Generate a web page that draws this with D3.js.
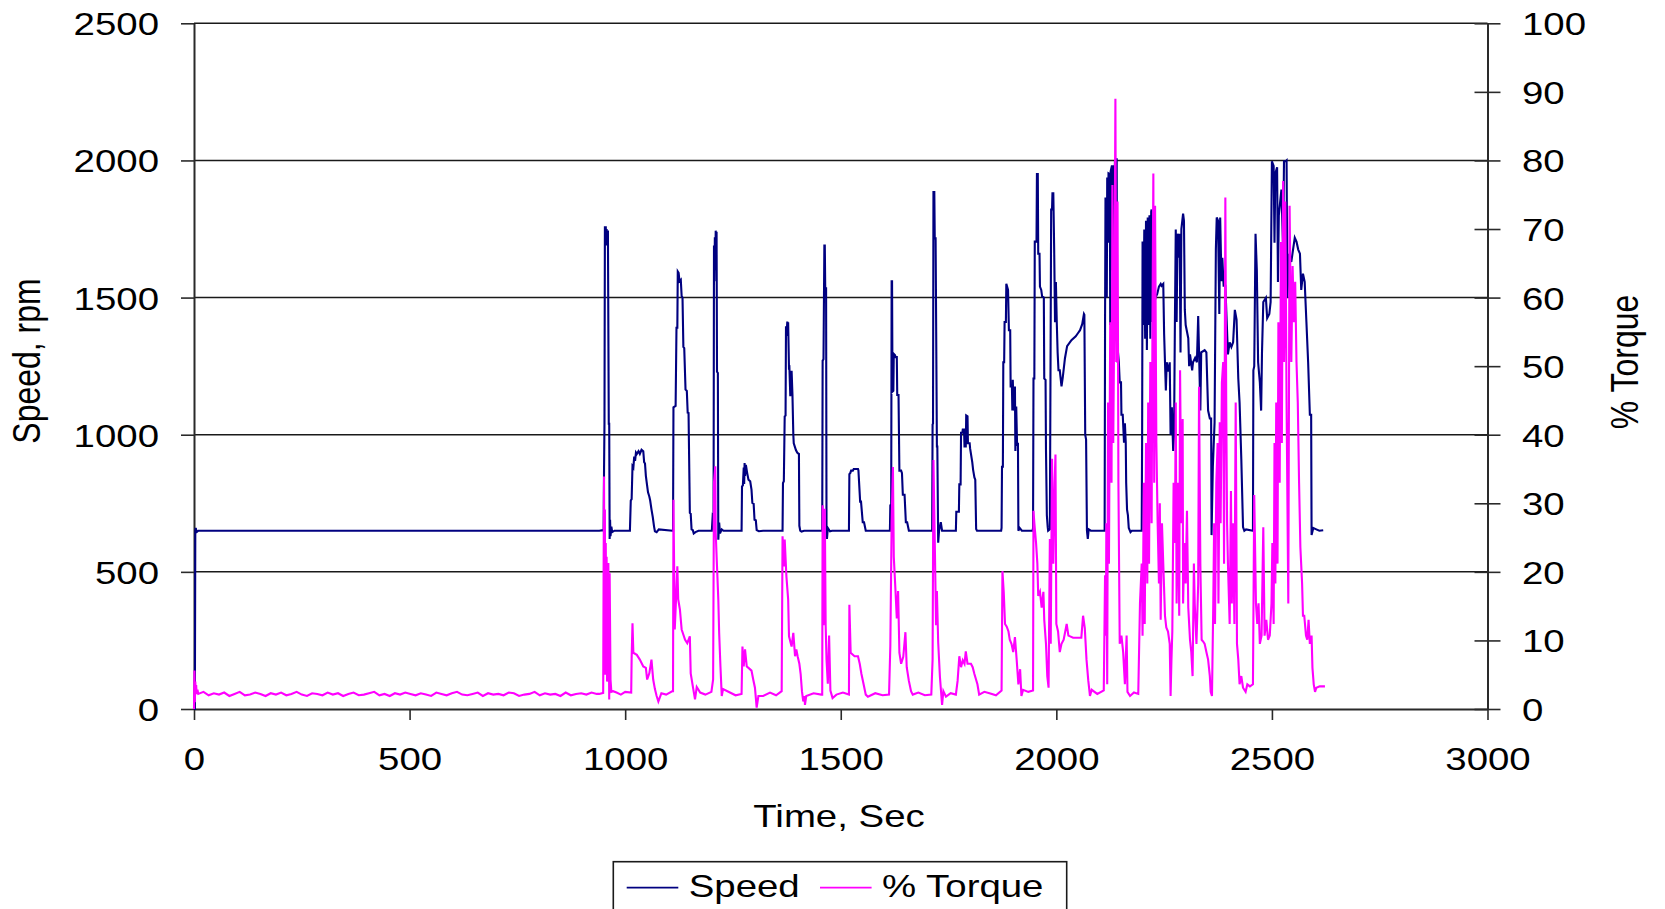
<!DOCTYPE html>
<html>
<head>
<meta charset="utf-8">
<script src="https://cdn.jsdelivr.net/npm/d3@7"></script>
<style>
  html, body { margin: 0; padding: 0; background: #fff; overflow: hidden; }
  text { font-family: "Liberation Sans", Arial, sans-serif; fill: #000; }
</style>
</head>
<body>
<div id="chart"></div>
<script>
// Engine speed (rpm) over time (s)
const speedData = [
  [0,0],[2,0],[3,650],[4,660],[6,645],[10,650],[940,650],
  [948,652],[950,650],[951,870],[952,1040],[953,1760],[954,1700],[955,1760],[956,1690],[957,1750],[958,1700],[960,1745],[962,1040],[963,1040],[964,620],[965,690],[966,630],[968,665],[970,645],[975,650],[1010,650],
  [1011,650],[1013,760],[1015,765],[1017,885],[1019,880],[1021,920],[1023,905],[1025,935],[1027,930],[1031,940],[1034,930],[1038,945],[1042,940],[1044,900],[1046,895],[1048,850],[1050,825],[1053,790],[1056,775],[1058,760],[1061,728],[1064,700],[1067,665],[1069,648],[1073,645],[1078,655],[1110,650],
  [1111,650],[1112,1100],[1117,1105],[1119,1390],[1121,1390],[1122,1595],[1124,1590],[1126,1560],[1129,1565],[1131,1505],[1133,1500],[1135,1320],[1137,1316],[1140,1165],[1143,1160],[1145,1080],[1147,1079],[1150,715],[1152,712],[1154,655],[1157,652],[1159,640],[1163,645],[1170,650],[1200,650],
  [1201,650],[1203,705],[1205,700],[1206,1690],[1207,1560],[1208,1720],[1209,1600],[1210,1744],[1211,1700],[1212,1740],[1213,1230],[1215,1225],[1216,617],[1218,680],[1220,640],[1224,655],[1228,650],[1268,650],
  [1270,650],[1271,812],[1273,815],[1275,880],[1276,820],[1277,897],[1278,850],[1280,890],[1283,860],[1286,836],[1290,830],[1293,800],[1295,751],[1298,748],[1300,690],[1303,688],[1305,652],[1310,648],[1320,650],[1363,650],
  [1365,650],[1366,824],[1368,830],[1370,1067],[1372,1070],[1373,1395],[1375,1380],[1376,1413],[1377,1360],[1378,1410],[1380,1237],[1381,1240],[1383,1140],[1386,1233],[1388,1145],[1390,1000],[1391,969],[1396,944],[1399,935],[1401,932],[1403,930],[1404,668],[1406,650],[1409,647],[1415,650],[1455,650],
  [1457,650],[1458,1270],[1460,1275],[1462,1690],[1463,1690],[1464,1534],[1466,1534],[1467,650],[1468,620],[1470,660],[1475,648],[1480,650],[1518,650],
  [1519,650],[1520,856],[1522,860],[1524,869],[1528,869],[1530,875],[1540,875],[1541,870],[1545,756],[1547,756],[1551,681],[1554,681],[1558,650],[1612,650],
  [1614,650],[1615,743],[1617,745],[1618,1559],[1619,1559],[1620,1157],[1622,1160],[1623,1295],[1626,1290],[1627,1283],[1630,1283],[1631,1145],[1634,1145],[1636,869],[1640,869],[1642,860],[1644,781],[1648,781],[1651,681],[1654,681],[1658,650],[1710,650],
  [1712,650],[1713,1038],[1714,1040],[1715,1885],[1717,1885],[1718,1716],[1720,1716],[1723,957],[1724,957],[1726,606],[1728,650],[1732,681],[1735,650],[1765,650],
  [1767,650],[1768,719],[1774,719],[1775,819],[1778,819],[1779,1007],[1782,1007],[1783,1019],[1786,1019],[1787,957],[1790,957],[1791,1070],[1794,1067],[1795,969],[1799,969],[1800,950],[1805,900],[1807,872],[1810,844],[1812,836],[1814,656],[1816,650],[1872,650],
  [1873,660],[1874,883],[1876,883],[1877,1264],[1879,1264],[1880,1411],[1883,1411],[1884,1550],[1888,1528],[1890,1381],[1893,1381],[1894,1176],[1897,1176],[1898,1088],[1899,1200],[1901,1088],[1904,1176],[1905,941],[1907,1103],[1909,960],[1911,971],[1912,650],[1915,660],[1920,650],[1945,650],
  [1946,660],[1947,1205],[1949,1205],[1950,1704],[1954,1704],[1955,1950],[1957,1950],[1958,1660],[1961,1660],[1962,1540],[1965,1528],[1967,1504],[1971,1500],[1972,1205],[1975,1200],[1976,945],[1978,707],[1980,663],[1981,650],[1985,655],[1988,1821],[1990,1821],[1991,1880],[1993,1880],[1995,1675],[1997,1410],[1999,1557],[2001,1411],[2003,1300],[2005,1235],[2008,1235],[2012,1176],[2015,1210],[2020,1279],[2025,1323],[2035,1345],[2045,1359],[2050,1370],[2055,1381],[2060,1403],[2064,1440],[2065,1437],[2067,1000],[2069,982],[2071,650],[2073,620],[2075,655],[2080,650],[2110,650],
  [2112,650],[2113,1411],[2114,1865],[2116,1838],[2117,1500],[2118,1938],[2120,1700],[2121,1953],[2124,1950],[2125,1400],[2126,1960],[2129,1982],[2130,1600],[2132,1982],[2134,1870],[2136,2000],[2137,1750],[2139,2004],[2140,2004],[2141,1264],[2143,1300],[2145,1264],[2147,1191],[2150,1191],[2151,1073],[2154,1073],[2157,971],[2159,1042],[2161,971],[2162,824],[2164,727],[2166,707],[2168,660],[2172,645],[2175,650],[2196,650],
  [2198,650],[2199,1000],[2200,1704],[2202,1400],[2204,1748],[2206,1350],[2208,1780],[2210,1309],[2212,1792],[2214,1400],[2216,1800],[2218,1350],[2220,1813],[2221,1821],[2222,1411],[2224,1450],[2226,1470],[2230,1500],[2234,1513],[2238,1540],[2242,1550],[2244,1543],[2248,1550],[2250,1367],[2254,1161],[2256,1264],[2260,1230],[2263,1264],[2265,1000],[2268,1100],[2271,941],[2273,1000],[2275,1411],[2277,1748],[2279,1411],[2281,1733],[2284,1645],[2286,1733],[2288,1300],[2290,1750],[2294,1806],[2296,1780],[2298,1455],[2300,1400],[2306,1352],[2308,1250],[2310,1293],[2315,1235],[2317,1264],[2322,1280],[2326,1264],[2329,1433],[2331,1300],[2334,1088],[2336,1300],[2344,1308],[2348,1300],[2352,1088],[2356,1059],[2359,1059],[2360,634],[2363,883],[2367,1044],[2370,1675],[2372,1792],[2375,1780],[2378,1440],[2380,1792],[2383,1560],[2385,1645],[2388,1543],[2392,1543],[2398,1293],[2402,1337],[2406,1320],[2410,1337],[2414,1455],[2418,1420],[2422,1205],[2425,1117],[2429,912],[2433,663],[2436,650],[2440,655],[2456,650],
  [2457,1235],[2459,1250],[2462,1733],[2465,1600],[2468,1264],[2472,1191],[2475,1088],[2477,1300],[2480,1484],[2486,1499],[2489,1425],[2494,1440],[2497,1484],[2500,1997],[2504,1980],[2506,1700],[2508,1953],[2512,1975],[2514,1557],[2516,1800],[2522,1894],[2526,1675],[2528,1997],[2532,1997],[2534,2000],[2536,1499],[2540,1660],[2545,1630],[2549,1675],[2553,1718],[2557,1704],[2561,1675],[2565,1660],[2568,1528],[2572,1587],[2576,1557],[2580,1411],[2584,1264],[2588,1073],[2591,1073],[2592,634],[2596,660],[2603,655],[2610,650],[2619,652]
];

// Percent torque over time (s)
const torqueData = [
  [0,0],[1,5.6],[2,1],[3,4],[4,2.5],[5,3.5],[6,2.2],[8,2.8],
  [10,2.2],[22,2.5],[34,2.0],[46,2.3],[58,2.1],[70,2.4],[82,1.9],[94,2.2],[106,2.5],[118,2.0],[130,2.1],[142,2.4],[154,2.2],[166,1.9],[178,2.3],[190,2.1],[202,2.4],[214,2.0],[226,2.2],[238,2.5],[250,2.1],[262,1.9],[274,2.3],[286,2.2],[298,2.0],[310,2.4],[322,2.1],[334,2.3],[346,1.9],[358,2.2],[370,2.4],[382,2.0],[394,2.1],[406,2.3],[418,2.5],[430,2.0],[442,2.2],[454,1.9],[466,2.3],[478,2.1],[490,2.4],[502,2.2],[514,2.0],[526,2.3],[538,2.1],[550,1.9],[562,2.4],[574,2.2],[586,2.0],[598,2.3],[610,2.5],[622,2.1],[634,2.0],[646,2.2],[658,2.4],[670,1.9],[682,2.3],[694,2.1],[706,2.2],[718,2.0],[730,2.4],[742,2.3],[754,1.9],[766,2.1],[778,2.2],[790,2.5],[802,2.0],[814,2.3],[826,2.1],[838,2.2],[850,1.9],[862,2.4],[874,2.0],[886,2.2],[898,2.3],[910,2.1],[922,2.4],[934,2.2],[940,2.2],
  [949,2.35],[950,20],[951,33.9],[952,10],[953,29.1],[954,5],[955,24.2],[956,13.5],[957,22.2],[958,4],[960,6.2],[961,21.3],[963,1.4],[964,19.8],[966,4.3],[968,2.5],[972,2.6],[980,2.4],[990,2.1],[1000,2.5],[1014,2.4],
  [1015,7.4],[1017,12.5],[1019,8.2],[1027,7.9],[1034,7.2],[1042,6.2],[1048,6],[1051,4.3],[1056,5.2],[1061,7.2],[1065,4.3],[1069,2.9],[1073,1.9],[1077,1.1],[1084,2.3],[1095,2.1],[1110,2.6],
  [1111,2.6],[1112,30.5],[1115,11.6],[1118,16],[1121,20.8],[1123,16],[1127,14.5],[1131,11.6],[1139,10.1],[1144,9.6],[1150,10.6],[1152,5.2],[1158,2.9],[1162,1.4],[1166,3.2],[1174,2.4],[1186,2.1],[1200,2.5],
  [1204,4.3],[1206,33],[1209,35.4],[1210,25.7],[1213,20.8],[1216,16],[1218,11.1],[1221,6.2],[1224,1.9],[1227,2.9],[1243,2.4],[1256,2.0],[1270,2.2],
  [1272,9.1],[1275,6.2],[1278,8.7],[1282,6.2],[1286,6],[1293,5.6],[1297,4.3],[1301,3.1],[1305,0.2],[1309,1.9],[1320,1.9],[1336,2.4],[1350,2.0],[1363,2.6],
  [1365,25.2],[1368,20.8],[1370,24.7],[1374,19.3],[1378,16],[1380,10.6],[1386,9.1],[1390,11.1],[1394,7.7],[1397,8.7],[1400,7.7],[1404,6.6],[1407,5.1],[1410,2.6],[1413,1.1],[1416,1.9],[1417,0.6],[1420,1.9],[1437,2.3],[1455,2.1],
  [1457,2.1],[1458,29.7],[1460,12.2],[1463,29.2],[1465,12.2],[1467,7.2],[1470,3.7],[1473,10.7],[1476,2.7],[1481,1.6],[1490,2.1],[1505,2.4],[1519,2.1],
  [1520,15.2],[1523,8.2],[1532,7.7],[1540,7.7],[1544,6.6],[1548,5.1],[1553,3.6],[1558,2.1],[1563,1.8],[1580,2.3],[1597,2.0],[1612,2.1],
  [1615,9.2],[1618,27.2],[1621,35.3],[1623,22.2],[1627,17.2],[1630,13.2],[1633,17.2],[1636,8.2],[1640,6.6],[1645,7.6],[1650,11.2],[1653,6.1],[1658,4.1],[1663,2.6],[1667,2.1],[1680,2.4],[1695,2.0],[1710,2.1],
  [1713,7.2],[1715,36.3],[1718,24.7],[1721,12.2],[1723,17.2],[1726,9.7],[1730,4.7],[1735,0.6],[1738,2.6],[1744,1.8],[1755,2.3],[1767,2.1],
  [1771,4.1],[1775,7.7],[1779,6.1],[1783,7.1],[1787,6.6],[1790,8.4],[1794,6.6],[1802,6.6],[1806,6.1],[1810,5.1],[1817,3.6],[1821,2.1],[1833,2.5],[1845,2.3],[1860,2.0],[1873,2.7],
  [1875,20.1],[1878,17.1],[1881,12.4],[1885,12],[1889,11.3],[1892,10.1],[1896,9.5],[1900,8.3],[1904,10.5],[1908,7.2],[1912,3.6],[1916,5.8],[1919,1.9],[1923,2.8],[1935,2.5],[1946,2.7],
  [1947,28.9],[1949,27.1],[1953,24.2],[1956,21.2],[1958,16.5],[1962,17.1],[1966,14.8],[1970,17.1],[1972,13],[1976,9.5],[1979,4.8],[1982,3.1],[1985,24.8],[1987,9.5],[1990,36.5],[1993,21.2],[1996,33],[1998,37.1],[2000,12.4],[2004,11.3],[2008,8.3],[2012,9.5],[2017,10.1],[2024,12.4],[2028,10.7],[2039,10.4],[2058,10.4],[2062,13.6],[2066,11.8],[2070,7.2],[2074,4.2],[2078,1.9],[2082,2.8],[2095,2.2],[2110,2.7],
  [2113,19.5],[2115,10.7],[2116,27.1],[2118,3.6],[2120,44.7],[2122,21.2],[2125,56.4],[2128,33],[2130,76.4],[2132,38.8],[2135,62.2],[2137,89],[2139,50.6],[2142,74],[2144,33],[2147,9.5],[2151,10.7],[2155,8.3],[2159,3.6],[2163,10.7],[2165,2.5],[2171,1.9],[2180,2.4],[2190,2.2],
  [2194,15.4],[2198,21.2],[2200,10.7],[2203,33],[2205,12.4],[2208,38.8],[2211,18.3],[2213,44.7],[2215,21.2],[2218,50.6],[2221,27.1],[2223,56.4],[2225,78.1],[2227,33],[2229,73.4],[2232,38.8],[2235,27.1],[2238,18.3],[2240,30],[2242,13],[2245,27.1],[2248,21.2],[2252,13.6],[2255,11.9],[2259,11.3],[2263,9.5],[2265,1.9],[2267,7.2],[2269,11.3],[2272,33],[2275,24.2],[2277,44.7],[2279,15.4],[2282,33],[2285,13.6],[2287,49.4],[2290,27.1],[2293,42.3],[2294,15.4],[2297,24.2],[2300,18.3],[2303,28.9],[2306,14.8],[2310,10.1],[2313,8.3],[2316,4.8],[2319,21.2],[2321,15.4],[2325,9.5],[2329,18.3],[2331,47],[2334,21.2],[2337,10.1],[2341,9.8],[2344,9.5],[2348,8.3],[2352,7.2],[2356,4.8],[2358,2.5],[2361,1.9],[2364,15.4],[2366,27.1],[2368,12.4],[2371,33],[2374,38.8],[2376,15.4],[2379,41.8],[2381,27.1],[2384,47.6],[2387,50.6],[2389,21.2],[2392,74.6],[2394,44.7],[2396,27.1],[2398,21.2],[2402,12.4],[2405,31.8],[2407,15.4],[2410,27.1],[2413,12.4],[2416,44.7],[2419,9.5],[2422,7.2],[2425,3.6],[2429,4.8],[2433,3.1],[2439,2.5],[2443,3.6],[2449,3.3],[2456,3.6],
  [2459,31.2],[2463,15.4],[2466,12.4],[2469,15.4],[2472,9.5],[2476,10.7],[2480,26.5],[2483,10.7],[2487,13],[2491,10.1],[2495,10.7],[2499,15.4],[2501,24.2],[2504,12.4],[2506,38.8],[2508,18.3],[2510,44.7],[2513,21.2],[2515,56.4],[2518,33],[2521,68.1],[2523,38.8],[2526,77],[2528,50.6],[2531,74],[2534,44.7],[2538,15.4],[2541,73.4],[2545,50.6],[2548,64.6],[2551,56.4],[2554,62.3],[2557,50.6],[2560,44.7],[2563,33],[2566,23.6],[2570,18.3],[2572,13.6],[2575,13.6],[2579,10.7],[2582,10.1],[2585,13],[2588,9.5],[2592,10.7],[2594,6],[2597,3.6],[2600,2.5],[2603,3.1],[2611,3.3],[2623,3.3]
];

const timeTicks = [0, 500, 1000, 1500, 2000, 2500, 3000];
const speedTicks = [0, 500, 1000, 1500, 2000, 2500];
const torqueTicks = [0, 10, 20, 30, 40, 50, 60, 70, 80, 90, 100];
const seriesNames = ["Speed", "% Torque"];
const seriesColors = ["#000080", "#ff00ff"];

const width = 1665, height = 909;
const plotLeft = 194, plotRight = 1487.5, plotTop = 23.3, plotBottom = 709;
const stretch = 1.2; // text in the picture is widened
const plain = d3.format("d");

const x = d3.scaleLinear().domain([0, 3000]).range([plotLeft, plotRight]);
const ySpeed = d3.scaleLinear().domain([0, 2500]).range([plotBottom, plotTop]);
const yTorque = d3.scaleLinear().domain([0, 100]).range([plotBottom, plotTop]);

const svg = d3.select("#chart").append("svg")
    .attr("width", width)
    .attr("height", height);

// Horizontal gridlines
svg.append("g").selectAll("line")
    .data(speedTicks.filter(d => d > 0))
    .enter().append("line")
    .attr("x1", plotLeft).attr("x2", plotRight)
    .attr("y1", d => ySpeed(d)).attr("y2", d => ySpeed(d))
    .attr("stroke", "#1a1a1a")
    .attr("stroke-width", 1.5);

function styleAxis(g) {
    g.select(".domain").attr("stroke", "#2a2a2a").attr("stroke-width", 2);
    g.selectAll(".tick line").attr("stroke", "#2a2a2a").attr("stroke-width", 1.6);
    g.selectAll("text").attr("x", null).attr("y", null).attr("dy", null)
        .style("font-size", "32px")
        .style("font-family", "'Liberation Sans', Arial, sans-serif")
        .attr("fill", "#000");
}

// Left axis (speed)
const gLeft = svg.append("g").attr("transform", `translate(${plotLeft},0)`)
    .call(d3.axisLeft(ySpeed).tickValues(speedTicks).tickFormat(plain).tickSize(13).tickSizeOuter(0));
styleAxis(gLeft);
gLeft.selectAll("text").attr("text-anchor", "end")
    .attr("transform", `translate(-35,11.5) scale(${stretch},1)`);

// Right axis (torque), cross tick marks
const gRight = svg.append("g").attr("transform", `translate(${plotRight},0)`)
    .call(d3.axisRight(yTorque).tickValues(torqueTicks).tickFormat(plain).tickSize(13).tickSizeOuter(0));
styleAxis(gRight);
gRight.selectAll(".tick line").attr("x1", -13);
gRight.selectAll("text").attr("text-anchor", "start")
    .attr("transform", `translate(34.5,11.5) scale(${stretch},1)`);

// Bottom axis (time)
const gBottom = svg.append("g").attr("transform", `translate(0,${plotBottom})`)
    .call(d3.axisBottom(x).tickValues(timeTicks).tickFormat(plain).tickSize(11).tickSizeOuter(0));
styleAxis(gBottom);
gBottom.selectAll("text").attr("text-anchor", "middle")
    .attr("transform", `translate(0,60.5) scale(${stretch},1)`);

// Series lines
const speedLine = d3.line().x(d => x(d[0])).y(d => ySpeed(d[1]));
const torqueLine = d3.line().x(d => x(d[0])).y(d => yTorque(d[1]));

svg.append("path")
    .datum(speedData)
    .attr("d", speedLine)
    .attr("fill", "none")
    .attr("stroke", seriesColors[0])
    .attr("stroke-width", 2.1)
    .attr("stroke-linejoin", "miter");

svg.append("path")
    .datum(torqueData)
    .attr("d", torqueLine)
    .attr("fill", "none")
    .attr("stroke", seriesColors[1])
    .attr("stroke-width", 2.1)
    .attr("stroke-linejoin", "miter");

// Axis titles
function label(txt, tx, ty, rotate) {
    svg.append("text")
        .attr("text-anchor", "middle")
        .attr("transform", `translate(${tx},${ty}) scale(${stretch},1)` + (rotate ? " rotate(-90)" : ""))
        .style("font-size", "32px")
        .text(txt);
}
label("Time, Sec", 839, 827, false);
label("Speed, rpm", 40, 361, true);
label("% Torque", 1638, 362, true);

// Legend
const legend = svg.append("g");
legend.append("rect")
    .attr("x", 613.3).attr("y", 861.7)
    .attr("width", 453.4).attr("height", 80)
    .attr("fill", "#fff")
    .attr("stroke", "#1a1a1a")
    .attr("stroke-width", 1.6);

const legendX = [626.7, 820];
seriesNames.forEach((name, i) => {
    legend.append("line")
        .attr("x1", legendX[i]).attr("x2", legendX[i] + 51.6)
        .attr("y1", 887.7).attr("y2", 887.7)
        .attr("stroke", seriesColors[i])
        .attr("stroke-width", 1.8);
    legend.append("text")
        .attr("transform", `translate(${legendX[i] + 62},897) scale(${stretch},1)`)
        .style("font-size", "32px")
        .text(name);
});
</script>
</body>
</html>
